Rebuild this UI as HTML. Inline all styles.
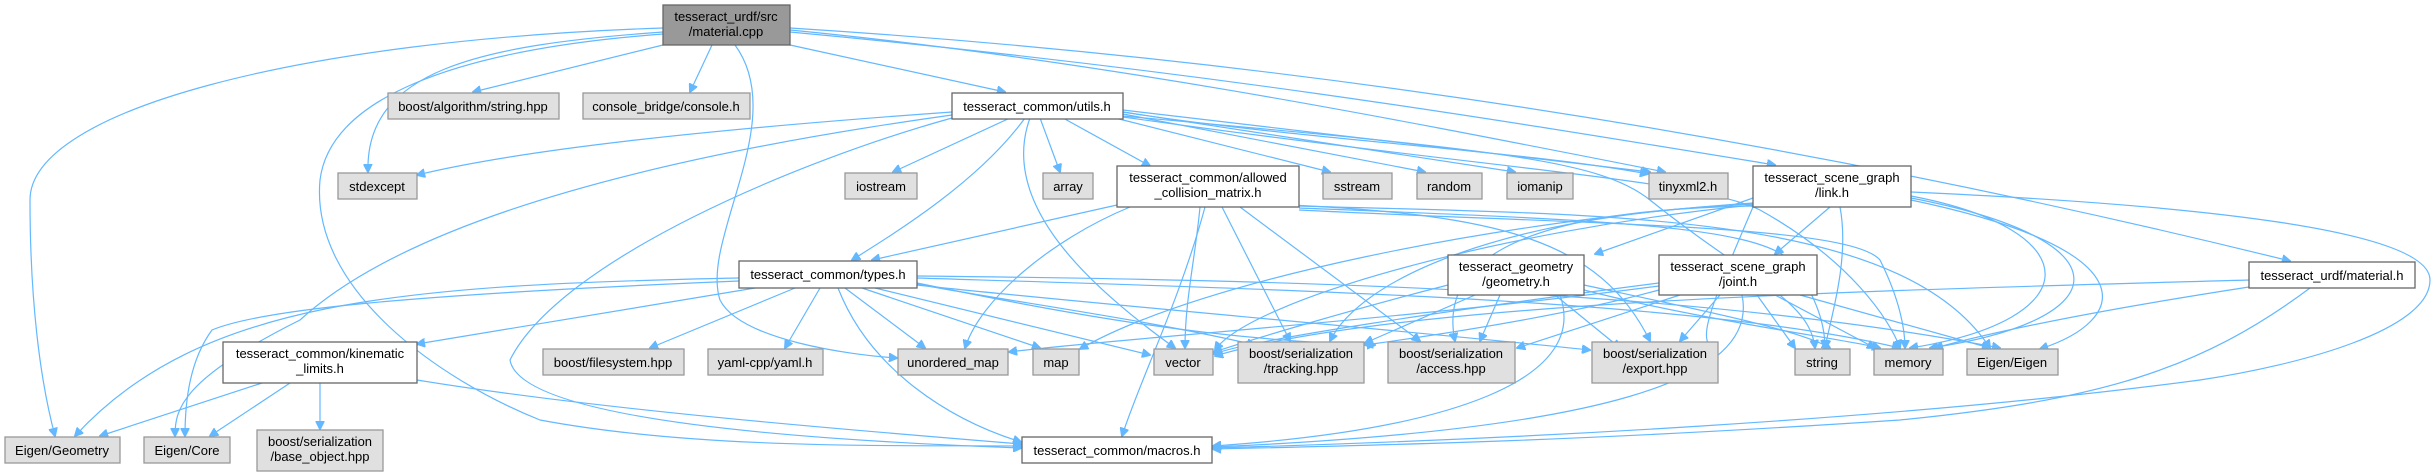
<!DOCTYPE html>
<html><head><meta charset="utf-8"><style>
html,body{margin:0;padding:0;background:#fff;}
svg{display:block;}
text{font-family:"Liberation Sans",sans-serif;font-size:13px;fill:#000;text-anchor:middle;}
.g{fill:#e0e0e0;stroke:#999;stroke-width:1.3;}
.w{fill:#fff;stroke:#666;stroke-width:1.3;}
.r{fill:#999;stroke:#666;stroke-width:1.3;}
path{fill:none;stroke:#63b8ff;stroke-width:1.2;}
</style></head><body>
<svg width="2436" height="476" viewBox="0 0 2436 476" xmlns="http://www.w3.org/2000/svg">
<defs><marker id="a" viewBox="0 0 10 10" refX="9" refY="5" markerWidth="9" markerHeight="9" orient="auto" markerUnits="userSpaceOnUse"><path d="M0,0 L10,5 L0,10 z" style="fill:#63b8ff;stroke:#63b8ff"/></marker></defs>
<g marker-end="url(#a)">
<!-- material.cpp -->
<path d="M663,28 C300,40 30,110 30,200 C30,300 40,380 55,436"/>
<path d="M663,45 L473,92"/>
<path d="M712,45 L690,92"/>
<path d="M663,32 C480,45 365,70 368,172"/>
<path d="M663,34 C450,50 330,100 320,180 C310,290 440,380 540,420 C700,450 900,445 1021,446"/>
<path d="M735,45 C790,120 700,240 720,300 C740,340 850,355 897,358"/>
<path d="M790,45 L1005,92"/>
<path d="M790,30 C1100,60 1400,120 1665,172"/>
<path d="M790,32 C1200,70 1500,120 1775,165"/>
<path d="M790,28 C1300,60 1800,140 2290,261"/>
<!-- utils -->
<path d="M952,112 C700,130 520,150 417,175"/>
<path d="M952,115 C700,150 420,210 300,320 C180,380 175,410 175,436"/>
<path d="M952,118 C800,160 560,260 510,360 C520,420 800,440 1021,448"/>
<path d="M1010,118 L893,172"/>
<path d="M1040,118 L1060,172"/>
<path d="M1063,118 L1150,166"/>
<path d="M1115,118 L1330,172"/>
<path d="M1123,114 L1425,172"/>
<path d="M1123,112 L1515,172"/>
<path d="M1123,110 L1650,172"/>
<path d="M1123,112 C1300,140 1520,150 1648,174"/>
<path d="M1025,118 C980,180 900,230 852,260"/>
<path d="M1030,118 C1000,200 1080,280 1175,348"/>
<path d="M1123,116 C1500,150 1600,160 1650,200 C1750,280 1810,300 1815,348"/>
<path d="M1123,117 C1500,170 1700,180 1760,210 C1850,260 1890,320 1900,348"/>
<!-- acm -->
<path d="M1117,205 L872,260"/>
<path d="M1130,207 C1050,240 980,300 965,348"/>
<path d="M1200,207 C1195,260 1185,300 1185,348"/>
<path d="M1205,207 C1180,300 1140,380 1122,436"/>
<path d="M1222,207 L1290,341"/>
<path d="M1240,207 L1420,341"/>
<path d="M1290,205 C1500,215 1600,240 1650,341"/>
<path d="M1299,206 C1600,215 1900,210 1990,348"/>
<path d="M1299,208 C1600,220 1750,225 1790,260 C1820,300 1825,330 1825,348"/>
<path d="M1299,210 C1600,225 1850,225 1880,260 C1900,300 1905,330 1905,348"/>
<!-- types -->
<path d="M739,278 C400,285 200,300 75,436"/>
<path d="M739,281 C400,295 260,310 212,330 C190,360 185,400 185,436"/>
<path d="M755,288 L417,344"/>
<path d="M795,288 L650,348"/>
<path d="M820,288 L785,348"/>
<path d="M845,288 L925,348"/>
<path d="M862,288 L1040,348"/>
<path d="M875,288 L1150,355"/>
<path d="M838,288 C870,370 950,420 1021,442"/>
<path d="M917,283 C1050,310 1200,340 1375,345"/>
<path d="M917,285 C1050,300 1400,330 1590,350"/>
<path d="M917,278 C1300,290 1700,300 1900,348"/>
<path d="M917,276 C1300,280 1700,290 2000,348"/>
<path d="M917,284 C1000,300 1150,320 1255,345"/>
<!-- kinematic -->
<path d="M262,383 L100,436"/>
<path d="M290,383 L210,436"/>
<path d="M320,383 L320,429"/>
<path d="M417,380 C600,410 850,430 1021,444"/>
<!-- link -->
<path d="M1753,198 L1595,254"/>
<path d="M1830,207 L1775,254"/>
<path d="M1753,205 C1500,230 1250,300 1215,350"/>
<path d="M1753,204 C1500,215 1360,280 1330,341"/>
<path d="M1753,206 C1500,210 1440,270 1455,341"/>
<path d="M1753,207 C1700,330 1700,340 1715,350"/>
<path d="M1753,203 C1500,220 1200,280 1080,349"/>
<path d="M1840,207 C1850,260 1830,320 1825,348"/>
<path d="M1911,196 C2090,230 2090,320 1910,348"/>
<path d="M1911,198 C2130,240 2120,320 1930,348"/>
<path d="M1911,200 C2150,250 2130,320 2040,349"/>
<path d="M1911,192 C2200,205 2430,230 2430,280 C2430,330 2300,365 2200,380 C1900,420 1500,440 1213,448"/>
<!-- geometry -->
<path d="M1448,285 C1350,310 1250,340 1214,352"/>
<path d="M1475,295 L1365,343"/>
<path d="M1500,295 L1480,341"/>
<path d="M1555,295 L1620,348"/>
<path d="M1584,285 C1700,310 1800,330 1830,348"/>
<path d="M1584,290 C1700,320 1850,340 1880,348"/>
<path d="M1560,295 C1590,380 1450,430 1213,446"/>
<!-- joint -->
<path d="M1659,283 C1450,310 1250,340 1214,354"/>
<path d="M1659,290 C1550,320 1400,340 1365,345"/>
<path d="M1680,295 L1517,348"/>
<path d="M1720,295 L1680,341"/>
<path d="M1757,295 L1795,348"/>
<path d="M1775,295 L1875,348"/>
<path d="M1800,295 L1990,348"/>
<path d="M1742,295 C1760,380 1600,430 1213,447"/>
<path d="M1659,286 C1400,320 1100,340 1009,352"/>
<!-- material.h -->
<path d="M2249,280 C1900,290 1400,300 1215,356"/>
<path d="M2249,287 C2100,310 2000,330 1935,348"/>
<path d="M2310,288 C2200,370 2100,400 1900,420 C1600,440 1400,445 1213,449"/>
</g>
<!-- nodes -->
<rect class="r" x="663" y="5" width="127" height="40"/><text x="726" y="21">tesseract_urdf/src</text><text x="726" y="36">/material.cpp</text>
<rect class="g" x="388" y="93" width="171" height="26"/><text x="473" y="111">boost/algorithm/string.hpp</text>
<rect class="g" x="583" y="93" width="167" height="26"/><text x="666" y="111">console_bridge/console.h</text>
<rect class="w" x="952" y="93" width="171" height="26"/><text x="1037" y="111">tesseract_common/utils.h</text>
<rect class="g" x="338" y="173" width="79" height="26"/><text x="377" y="191">stdexcept</text>
<rect class="g" x="845" y="173" width="72" height="26"/><text x="881" y="191">iostream</text>
<rect class="g" x="1043" y="173" width="50" height="26"/><text x="1068" y="191">array</text>
<rect class="w" x="1117" y="166" width="182" height="41"/><text x="1208" y="182">tesseract_common/allowed</text><text x="1208" y="197">_collision_matrix.h</text>
<rect class="g" x="1323" y="173" width="69" height="26"/><text x="1357" y="191">sstream</text>
<rect class="g" x="1417" y="173" width="65" height="26"/><text x="1449" y="191">random</text>
<rect class="g" x="1507" y="173" width="66" height="26"/><text x="1540" y="191">iomanip</text>
<rect class="g" x="1649" y="173" width="79" height="26"/><text x="1688" y="191">tinyxml2.h</text>
<rect class="w" x="1753" y="166" width="158" height="41"/><text x="1832" y="182">tesseract_scene_graph</text><text x="1832" y="197">/link.h</text>
<rect class="w" x="739" y="261" width="178" height="27"/><text x="828" y="279">tesseract_common/types.h</text>
<rect class="w" x="1448" y="255" width="136" height="40"/><text x="1516" y="271">tesseract_geometry</text><text x="1516" y="286">/geometry.h</text>
<rect class="w" x="1659" y="255" width="158" height="40"/><text x="1738" y="271">tesseract_scene_graph</text><text x="1738" y="286">/joint.h</text>
<rect class="w" x="2249" y="262" width="166" height="26"/><text x="2332" y="280">tesseract_urdf/material.h</text>
<rect class="w" x="223" y="342" width="194" height="41"/><text x="320" y="358">tesseract_common/kinematic</text><text x="320" y="373">_limits.h</text>
<rect class="g" x="543" y="349" width="141" height="26"/><text x="613" y="367">boost/filesystem.hpp</text>
<rect class="g" x="708" y="349" width="115" height="26"/><text x="765" y="367">yaml-cpp/yaml.h</text>
<rect class="g" x="898" y="349" width="110" height="26"/><text x="953" y="367">unordered_map</text>
<rect class="g" x="1033" y="349" width="46" height="26"/><text x="1056" y="367">map</text>
<rect class="g" x="1154" y="349" width="59" height="26"/><text x="1183" y="367">vector</text>
<rect class="g" x="1238" y="342" width="126" height="41"/><text x="1301" y="358">boost/serialization</text><text x="1301" y="373">/tracking.hpp</text>
<rect class="g" x="1388" y="342" width="127" height="41"/><text x="1451" y="358">boost/serialization</text><text x="1451" y="373">/access.hpp</text>
<rect class="g" x="1592" y="342" width="126" height="41"/><text x="1655" y="358">boost/serialization</text><text x="1655" y="373">/export.hpp</text>
<rect class="g" x="1795" y="349" width="55" height="26"/><text x="1822" y="367">string</text>
<rect class="g" x="1874" y="349" width="69" height="26"/><text x="1908" y="367">memory</text>
<rect class="g" x="1967" y="349" width="91" height="26"/><text x="2012" y="367">Eigen/Eigen</text>
<rect class="g" x="5" y="437" width="115" height="26"/><text x="62" y="455">Eigen/Geometry</text>
<rect class="g" x="144" y="437" width="86" height="26"/><text x="187" y="455">Eigen/Core</text>
<rect class="g" x="257" y="430" width="126" height="41"/><text x="320" y="446">boost/serialization</text><text x="320" y="461">/base_object.hpp</text>
<rect class="w" x="1022" y="437" width="190" height="26"/><text x="1117" y="455">tesseract_common/macros.h</text>
</svg>
</body></html>
